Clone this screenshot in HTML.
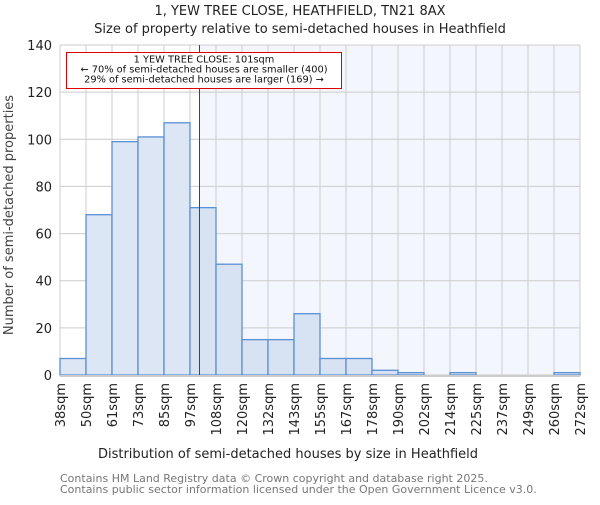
<!DOCTYPE html>
<html><head><meta charset="utf-8"><style>
body{margin:0;background:#fff;}
svg text{font-family:"DejaVu Sans","Liberation Sans",sans-serif;}
</style></head><body>
<svg id="chart" width="600" height="500" xmlns="http://www.w3.org/2000/svg">
<text x="300" y="15" text-anchor="middle" font-size="13" fill="#222">1, YEW TREE CLOSE, HEATHFIELD, TN21 8AX</text>
<text x="300" y="33" text-anchor="middle" font-size="13" fill="#222">Size of property relative to semi-detached houses in Heathfield</text>
<g id="plot"></g>
<text x="288" y="458" text-anchor="middle" font-size="13" fill="#222">Distribution of semi-detached houses by size in Heathfield</text>
<text transform="translate(13,215) rotate(-90)" text-anchor="middle" font-size="13" fill="#444">Number of semi-detached properties</text>
<text x="60" y="482" font-size="11" fill="#777">Contains HM Land Registry data © Crown copyright and database right 2025.</text>
<text x="60" y="493" font-size="11" fill="#777">Contains public sector information licensed under the Open Government Licence v3.0.</text>
</svg>
<script>
const edgeLabels=["38sqm","50sqm","61sqm","73sqm","85sqm","97sqm","108sqm","120sqm","132sqm","143sqm","155sqm","167sqm","178sqm","190sqm","202sqm","214sqm","225sqm","237sqm","249sqm","260sqm","272sqm"];
const counts=[7,68,99,101,107,71,47,15,15,26,7,7,2,1,0,1,0,0,0,1];
const yTicks=[0,20,40,60,80,100,120,140];
const propertyBinPos=5+(101-97)/(108-97);
const X0=60,X1=580,Y0=375,Y1=45,YMAX=140;
const NS="http://www.w3.org/2000/svg";
const g=document.getElementById('plot');
const n=counts.length;
const xs=i=>X0+(X1-X0)*i/n;
const ys=v=>Y0-(Y0-Y1)*v/YMAX;
function mk(t,a){const e=document.createElementNS(NS,t);for(const k in a)e.setAttribute(k,a[k]);g.appendChild(e);return e;}
const redX=Math.round(xs(propertyBinPos))+0.5;
let bg=mk('rect',{x:redX,y:Y1,width:X1-redX,height:Y0-Y1,fill:'#f3f6fd'});


yTicks.forEach(t=>{
 let l=mk('line',{x1:X0,x2:X1,y1:ys(t),y2:ys(t),stroke:'#ccc','stroke-width':1});
 
 
 let tx=mk('text',{x:X0-8,y:ys(t)+5,'text-anchor':'end','font-size':13,fill:'#222'});
 tx.textContent=t;
 
 
});
edgeLabels.forEach((lab,i)=>{
 let l=mk('line',{x1:xs(i),x2:xs(i),y1:Y1,y2:Y0,stroke:'#ccc','stroke-width':1});
 
 
 let tx=mk('text',{transform:`translate(${xs(i)+5},${Y0+8}) rotate(-90)`,'text-anchor':'end','font-size':13,fill:'#222'});
 tx.textContent=lab;
 
 
});
counts.forEach((c,i)=>{
 let r=mk('rect',{x:xs(i),y:ys(c),width:xs(i+1)-xs(i),height:Y0-ys(c),fill:(i<5?'#dde6f4':'#d7e2f3'),stroke:'#5b8fd6','stroke-width':1.3});
 
 
});
let ax=mk('line',{x1:X0,x2:X1,y1:Y0+1,y2:Y0+1,stroke:'#ccc','stroke-width':2});


let rl=mk('line',{x1:redX,x2:redX,y1:Y1,y2:Y0,stroke:'#e00000','stroke-width':1});


let box=mk('rect',{x:66.5,y:52.5,width:275,height:36,fill:'#fff',stroke:'#d00','stroke-width':1});


["1 YEW TREE CLOSE: 101sqm","← 70% of semi-detached houses are smaller (400)","29% of semi-detached houses are larger (169) →"].forEach((s,k)=>{
 let t=mk('text',{x:204,y:62.5+k*10,'text-anchor':'middle','font-size':9.8,fill:'#111'});
 t.textContent=s;
 
 
});
</script>
</body></html>
